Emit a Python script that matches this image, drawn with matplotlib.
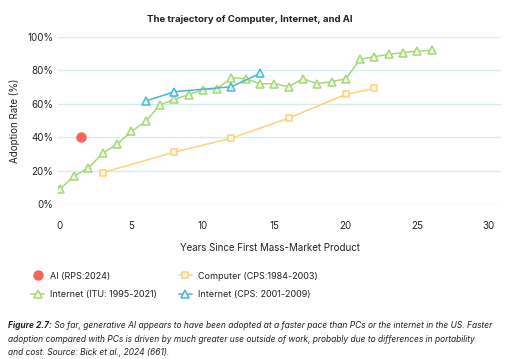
import matplotlib
matplotlib.use("Agg")
import matplotlib.pyplot as plt

# adoption data (years since first mass-market product, %)
ai_years = [1.5]
ai_rate = [40]

itu_years = list(range(27))
itu_rate = [8.8, 16.8, 21.6, 30.4, 35.8, 43.4, 49.4, 59.4, 62.6, 65.4,
            68.4, 69.0, 75.6, 75.0, 72.0, 72.0, 70.2, 75.0, 72.0, 73.2,
            75.0, 86.6, 88.2, 89.6, 90.6, 91.6, 92.0]

pc_years = [3, 8, 12, 16, 20, 22]
pc_rate = [18.8, 31.0, 39.4, 51.4, 65.6, 69.2]

cps_years = [6, 8, 12, 14]
cps_rate = [61.6, 67.2, 70.2, 78.2]

yticks = [0, 20, 40, 60, 80, 100]
xticks = [0, 5, 10, 15, 20, 25, 30]

plt.rcParams['font.family'] = ['Inter', 'DejaVu Sans']

red = '#f8645a'
yellow = '#fdd27a'
green = '#a6d77c'
blue = '#4cb6d6'
grid = '#d4eef0'
text = '#222222'

fig = plt.figure(figsize=(5.19, 3.59), dpi=100)
ax = fig.add_axes([0.111, 0.432, 0.854, 0.465])

ax.plot(itu_years, itu_rate, color=green, lw=1.1, marker='^', ms=5.5,
        mfc='#eef7e4', mec=green, mew=1.1, label='Internet (ITU: 1995-2021)', zorder=3)
ax.plot(pc_years, pc_rate, color=yellow, lw=1.1, marker='s', ms=5,
        mfc='#fff8e6', mec=yellow, mew=1.1, label='Computer (CPS:1984-2003)', zorder=3)
ax.plot(cps_years, cps_rate, color=blue, lw=1.1, marker='^', ms=5.5,
        mfc='#e4f4f9', mec=blue, mew=1.1, label='Internet (CPS: 2001-2009)', zorder=4)
ax.plot(ai_years, ai_rate, ls='none', marker='o', ms=6.5, color=red,
        label='AI (RPS:2024)', zorder=5)

ax.set_xlim(-0.16, 30.84)
ax.set_ylim(0, 100)
ax.set_xticks(xticks)
ax.set_yticks(yticks)
ax.set_yticklabels([f'{v}%' for v in yticks])
ax.yaxis.grid(True, color=grid, lw=1.0)
ax.set_axisbelow(True)
for s in ax.spines.values():
    s.set_visible(False)
ax.tick_params(length=0, labelsize=7, colors=text, pad=3)
ax.tick_params(axis='x', pad=12)

ax.set_xlabel('Years Since First Mass-Market Product', fontsize=7, color=text)
ax.xaxis.set_label_coords(0.479, -0.235)
ax.set_ylabel('Adoption Rate (%)', fontsize=7, color=text, labelpad=5)
fig.text(0.482, 0.947, 'The trajectory of Computer, Internet, and AI', fontsize=6.9,
         fontweight='bold', color=text, ha='center', va='center')

h, l = ax.get_legend_handles_labels()
order = [3, 0, 1, 2]
fig.legend([h[i] for i in order], [l[i] for i in order], ncol=2,
           loc='upper left', bbox_to_anchor=(0.045, 0.266), frameon=False,
           fontsize=6.5, columnspacing=2.4, handlelength=1.4, handletextpad=0.7,
           labelspacing=1.05, labelcolor=text)

# caption: bold italic lead-in followed by italic text
cap_size = 6.05
lead = fig.text(0.016, 0.085, 'Figure 2.7:', fontsize=cap_size, style='italic',
                fontweight='bold', color=text, va='baseline')
ax.annotate(' So far, generative AI appears to have been adopted at a faster pace than PCs or the internet in the US. Faster',
            xy=(1, 0), xycoords=lead, va='bottom', ha='left', fontsize=cap_size,
            style='italic', color=text)
fig.text(0.016, 0.046, 'adoption compared with PCs is driven by much greater use outside of work, probably due to differences in portability',
         fontsize=cap_size, style='italic', color=text, va='baseline')
fig.text(0.016, 0.010, 'and cost. Source: Bick et al., 2024 (661).',
         fontsize=cap_size, style='italic', color=text, va='baseline')

fig.savefig('out.png', dpi=100)
